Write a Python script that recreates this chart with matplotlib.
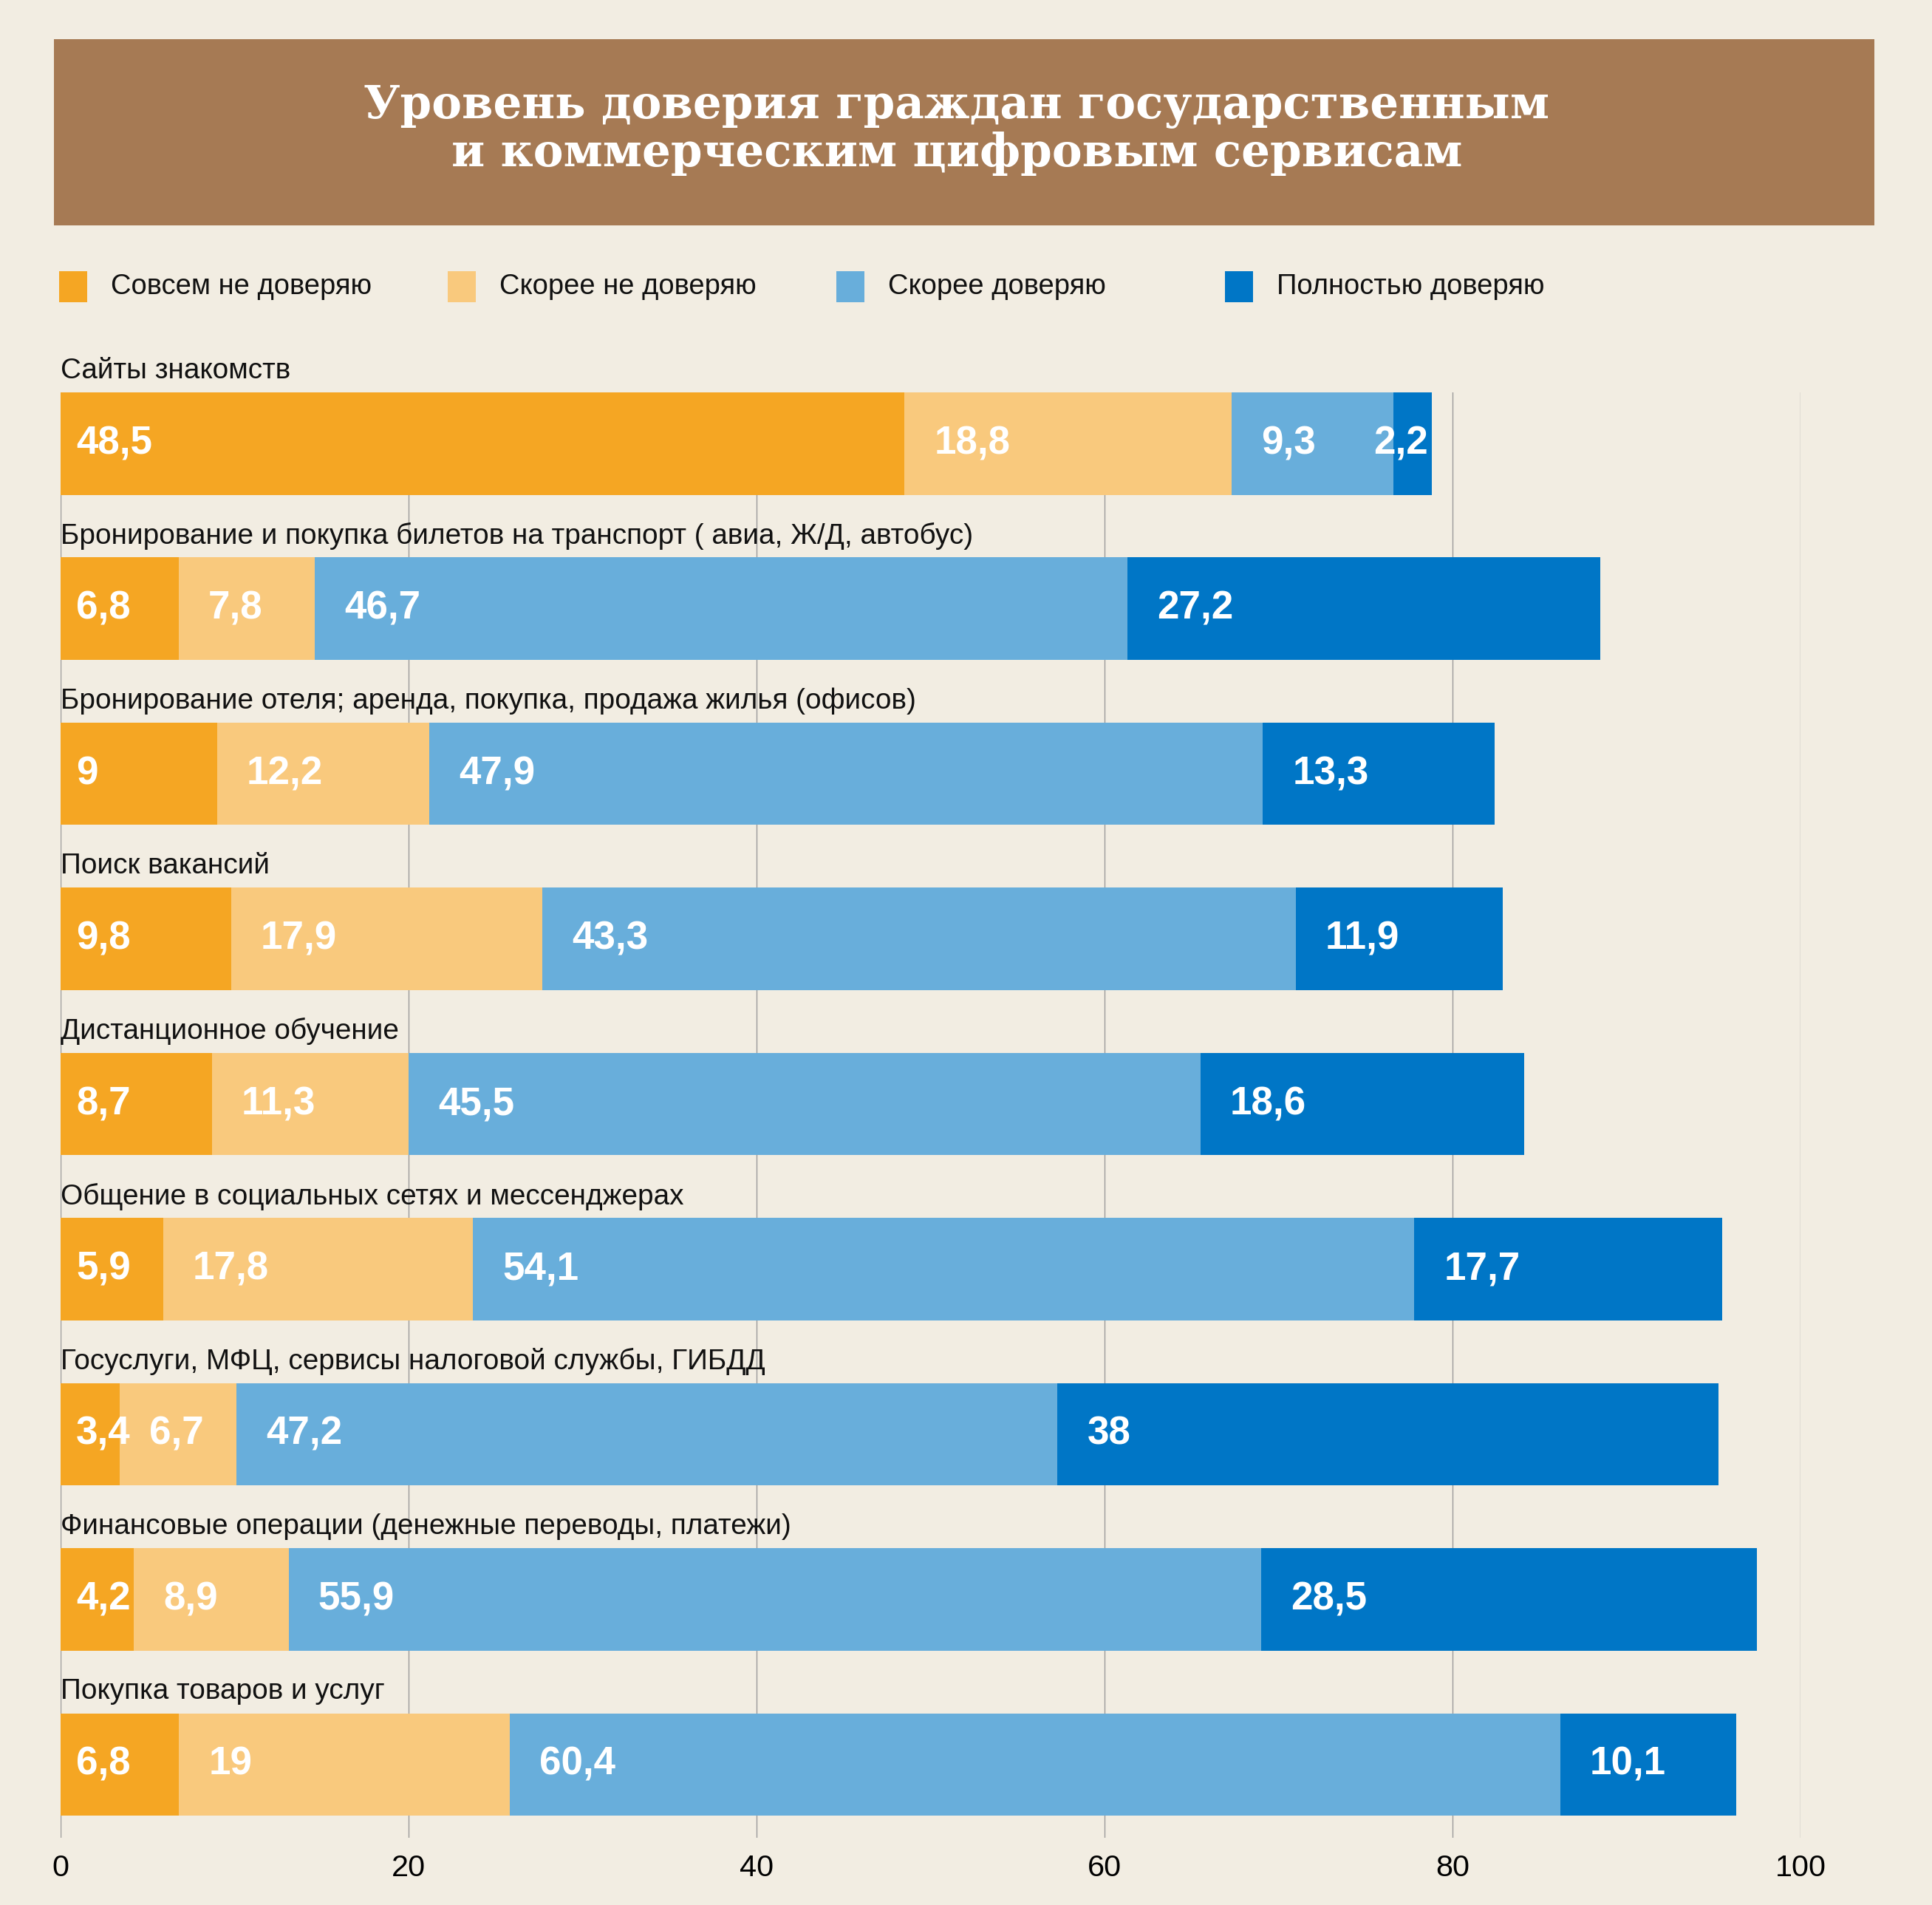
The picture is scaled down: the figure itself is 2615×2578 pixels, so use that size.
import matplotlib
matplotlib.use("Agg")
import matplotlib.pyplot as plt
from matplotlib import font_manager
from matplotlib.patches import Rectangle

# данные с картинки (проценты)
categories = [
    "Сайты знакомств",
    "Бронирование и покупка билетов на транспорт ( авиа, Ж/Д, автобус)",
    "Бронирование отеля; аренда, покупка, продажа жилья (офисов)",
    "Поиск вакансий",
    "Дистанционное обучение",
    "Общение в социальных сетях и мессенджерах",
    "Госуслуги, МФЦ, сервисы налоговой службы, ГИБДД",
    "Финансовые операции (денежные переводы, платежи)",
    "Покупка товаров и услуг",
]
not_at_all = [48.5, 6.8, 9, 9.8, 8.7, 5.9, 3.4, 4.2, 6.8]
rather_not = [18.8, 7.8, 12.2, 17.9, 11.3, 17.8, 6.7, 8.9, 19]
rather_yes = [9.3, 46.7, 47.9, 43.3, 45.5, 54.1, 47.2, 55.9, 60.4]
fully = [2.2, 27.2, 13.3, 11.9, 18.6, 17.7, 38, 28.5, 10.1]
series_names = ["Совсем не доверяю", "Скорее не доверяю", "Скорее доверяю", "Полностью доверяю"]
x_ticks = [0, 20, 40, 60, 80, 100]
title = "Уровень доверия граждан государственным\nи коммерческим цифровым сервисам"

colors = ["#F5A623", "#F9C97D", "#68AEDB", "#0076C6"]
bg = "#F2EDE2"
title_bg = "#A67A54"

# узкий шрифт, если есть
names = {f.name for f in font_manager.fontManager.ttflist}
if "Liberation Sans Narrow" in names:
    body_font, k = "Liberation Sans Narrow", 1.1
else:
    body_font, k = "Liberation Sans", 0.93

W, H = 2615, 2578
fig = plt.figure(figsize=(W / 100, H / 100), dpi=100)
fig.patch.set_facecolor(bg)

# заголовок
fig.add_artist(Rectangle((73 / W, 1 - 305 / H), (2537 - 73) / W, (305 - 53) / H,
                         transform=fig.transFigure, facecolor=title_bg, edgecolor="none"))
fig.text(1295 / W, 1 - 176 / H, title, ha="center", va="center", multialignment="center",
         color="white", fontsize=44, fontweight="bold", family="DejaVu Serif", linespacing=1.08)

# легенда
for i, name in enumerate(series_names):
    x0 = 80 + i * 526
    fig.add_artist(Rectangle((x0 / W, 1 - 409 / H), 38 / W, 42 / H,
                             transform=fig.transFigure, facecolor=colors[i], edgecolor="none"))
    fig.text((x0 + 70) / W, 1 - 388 / H, name, ha="left", va="center",
             fontsize=29.5 * k, family=body_font, color="#111111")

ax = fig.add_axes([82 / W, 1 - 2487 / H, 2355 / W, (2487 - 531) / H])
ax.set_facecolor("none")
ax.set_xlim(0, 100)
ax.set_ylim(8.444, -0.31)
for s in ax.spines.values():
    s.set_visible(False)
ax.set_yticks([])
ax.set_xticks(x_ticks)
ax.set_xticklabels([str(t) for t in x_ticks], fontsize=32 * k, family=body_font)
ax.tick_params(axis="x", length=0, pad=16)

for t in x_ticks:
    ax.axvline(t, color="#9a9a9a", lw=1.0, zorder=0)

series = [not_at_all, rather_not, rather_yes, fully]
ys = list(range(len(categories)))
lefts = [0] * len(categories)
bar_h = 0.62
for j, vals in enumerate(series):
    ax.barh(ys, vals, left=lefts, height=bar_h, color=colors[j], zorder=2)
    for i, v in enumerate(vals):
        label = f"{v:g}".replace(".", ",")
        if v < 3:
            ax.text(lefts[i] + v - 0.2, i, label, ha="right", va="center", color="white",
                    fontsize=41 * k, fontweight="bold", family=body_font, zorder=3)
        else:
            off = 0.9 if j == 0 else 1.7
            ax.text(lefts[i] + off, i, label, ha="left", va="center", color="white",
                    fontsize=41 * k, fontweight="bold", family=body_font, zorder=3)
    lefts = [a + b for a, b in zip(lefts, vals)]

for i, cat in enumerate(categories):
    ax.text(0, i - bar_h / 2 - 0.13, cat, ha="left", va="center", fontsize=30 * k,
            family=body_font, color="#111111", clip_on=False, zorder=3)

fig.savefig("out.png", dpi=100, facecolor=bg)
